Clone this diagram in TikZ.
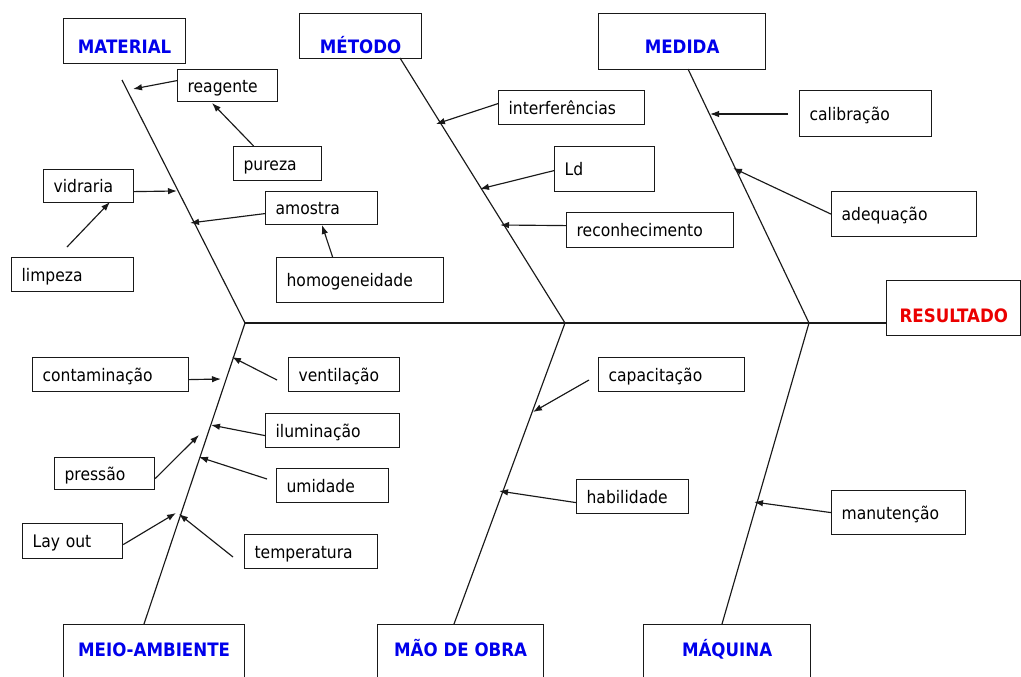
\documentclass[tikz,border=0pt]{standalone}
\usepackage{fontspec}
\setmainfont{DejaVu Sans}[FakeStretch=0.9]
\usetikzlibrary{arrows.meta}
\definecolor{hblue}{RGB}{0,0,235}
\definecolor{hred}{RGB}{235,0,0}
\definecolor{ln}{RGB}{25,25,25}
\begin{document}
\begin{tikzpicture}[x=1pt,y=-1pt,
  cbox/.style={draw=ln, line width=1.2pt, anchor=north west, inner xsep=10pt, inner ysep=0pt, align=left, text height=15pt, text depth=2pt, font=\fontsize{17.3}{20}\selectfont},
  head/.style={draw=ln, line width=1.2pt, anchor=north west, inner xsep=0pt, inner ysep=0pt, align=center, font=\fontsize{18.5}{22}\selectfont\bfseries, text=hblue},
  bone/.style={draw=ln, line width=1.15pt},
  arr/.style={draw=ln, line width=1.15pt, -{Latex[length=9pt,width=6.5pt]}}]
\useasboundingbox (0,0) rectangle (1021,677);
\fill[white] (0,0) rectangle (1021,677);

% category heads
\node[head, minimum width=122pt, text height=35pt, text depth=10pt] (mat) at (63,18) {MATERIAL};
\node[head, minimum width=122pt, text height=40pt, text depth=5pt] (met) at (299,13) {MÉTODO};
\node[head, minimum width=167pt, text height=40pt, text depth=16pt] (med) at (598,13) {MEDIDA};
\node[head, text=hred, inner xsep=13pt, text height=42pt, text depth=13pt] (res) at (886,280) {RESULTADO};
\node[head, minimum width=181pt, text height=32pt, text depth=40pt] (meio) at (63,624) {MEIO-AMBIENTE};
\node[head, minimum width=166pt, text height=32pt, text depth=40pt] (obra) at (377,624) {MÃO DE OBRA};
\node[head, minimum width=167pt, text height=32pt, text depth=40pt] (maq) at (643,624) {MÁQUINA};

% cause boxes
\node[cbox, text width=80pt, minimum height=32pt] (reag) at (177,69) {reagente};
\node[cbox, text width=68pt, minimum height=34pt] (pur) at (233,146) {pureza};
\node[cbox, text width=70pt, minimum height=33pt] (vid) at (43,169) {vidraria};
\node[cbox, text width=102pt, minimum height=34pt] (limp) at (11,257) {limpeza};
\node[cbox, text width=92pt, minimum height=33pt] (amo) at (265,191) {amostra};
\node[cbox, text width=147pt, minimum height=45pt] (hom) at (276,257) {homogeneidade};
\node[cbox, text width=126pt, minimum height=34pt] (int) at (498,90) {interferências};
\node[cbox, text width=80pt, minimum height=45pt] (ld) at (554,146) {Ld};
\node[cbox, text width=147pt, minimum height=35pt] (rec) at (566,212) {reconhecimento};
\node[cbox, text width=112pt, minimum height=46pt] (cal) at (799,90) {calibração};
\node[cbox, text width=125pt, minimum height=45pt] (ade) at (831,191) {adequação};
\node[cbox, text width=136pt, minimum height=34pt] (con) at (32,357) {contaminação};
\node[cbox, text width=91pt, minimum height=34pt] (ven) at (288,357) {ventilação};
\node[cbox, text width=114pt, minimum height=34pt] (ilu) at (265,413) {iluminação};
\node[cbox, text width=80pt, minimum height=32pt] (pre) at (54,457) {pressão};
\node[cbox, text width=92pt, minimum height=34pt] (umi) at (276,468) {umidade};
\node[cbox, text width=80pt, minimum height=35pt] (lay) at (22,523) {Lay out};
\node[cbox, text width=113pt, minimum height=34pt] (tem) at (244,534) {temperatura};
\node[cbox, text width=126pt, minimum height=34pt] (cap) at (598,357) {capacitação};
\node[cbox, text width=92pt, minimum height=34pt] (hab) at (576,479) {habilidade};
\node[cbox, text width=114pt, minimum height=44pt] (man) at (831,490) {manutenção};

% skeleton
\coordinate (j1) at (245,323);
\coordinate (j2) at (565,323);
\coordinate (j3) at (809,323);
\coordinate (matA) at (122,80);
\coordinate (metA) at (400,58);
\coordinate (medA) at (688,69);
\coordinate (meioB) at (144,624);
\coordinate (obraB) at (454,624);
\coordinate (maqB) at (722,624);
\draw[bone] (j1) -- (j1 -| res.west);
\draw[bone] (matA) -- (j1);
\draw[bone] (metA) -- (j2);
\draw[bone] (medA) -- (j3);
\draw[bone] (j1) -- (meioB);
\draw[bone] (j2) -- (obraB);
\draw[bone] (j3) -- (maqB);

% arrow tips
\coordinate (tReag) at (133,89);
\coordinate (tPur) at (212,103);
\coordinate (tVid) at (177,191);
\coordinate (tLimp) at (110,202);
\coordinate (tAmo) at (190,223);
\coordinate (tHom) at (322,225);
\coordinate (tInt) at (436,124);
\coordinate (tLd) at (480,189);
\coordinate (tRec) at (500,225);
\coordinate (tCal) at (710,114);
\coordinate (tAde) at (733,168);
\coordinate (tCon) at (221,379);
\coordinate (tVen) at (232,357);
\coordinate (tIlu) at (211,425);
\coordinate (tPre) at (199,435);
\coordinate (tUmi) at (199,457);
\coordinate (tLay) at (176,513);
\coordinate (tTem) at (179,514);
\coordinate (tCap) at (533,412);
\coordinate (tHab) at (499,491);
\coordinate (tMan) at (754,502);
% detached arrow starts
\coordinate (sLimp) at (67,247);
\coordinate (sCal) at (788,114);
\coordinate (sVen) at (277,380);
\coordinate (sUmi) at (267,479);
\coordinate (sTem) at (233,557);
\coordinate (sCap) at (589,380);

\draw[arr] ([yshift=5pt]reag.west) -- (tReag);
\draw[arr] ([xshift=-24pt]pur.north) -- (tPur);
\draw[arr] ([yshift=-5.5pt]vid.east) -- (tVid);
\draw[arr] (sLimp) -- (tLimp);
\draw[arr] ([yshift=-5.5pt]amo.west) -- (tAmo);
\draw[arr] ([xshift=-27.5pt]hom.north) -- (tHom);
\draw[arr] ([yshift=4pt]int.west) -- (tInt);
\draw[arr] ([yshift=-1.5pt]ld.west) -- (tLd);
\draw[arr] ([yshift=4.5pt]rec.west) -- (tRec);
\draw[arr] (sCal) -- (tCal);
\draw[arr] (ade.west) -- (tAde);
\draw[arr] ([yshift=-5pt]con.east) -- (tCon);
\draw[arr] (sVen) -- (tVen);
\draw[arr] ([yshift=-5pt]ilu.west) -- (tIlu);
\draw[arr] ([yshift=-5pt]pre.east) -- (tPre);
\draw[arr] (sUmi) -- (tUmi);
\draw[arr] ([yshift=-3.5pt]lay.east) -- (tLay);
\draw[arr] (sTem) -- (tTem);
\draw[arr] (sCap) -- (tCap);
\draw[arr] ([yshift=-6pt]hab.west) -- (tHab);
\draw[arr] (man.west) -- (tMan);
\end{tikzpicture}
\end{document}
